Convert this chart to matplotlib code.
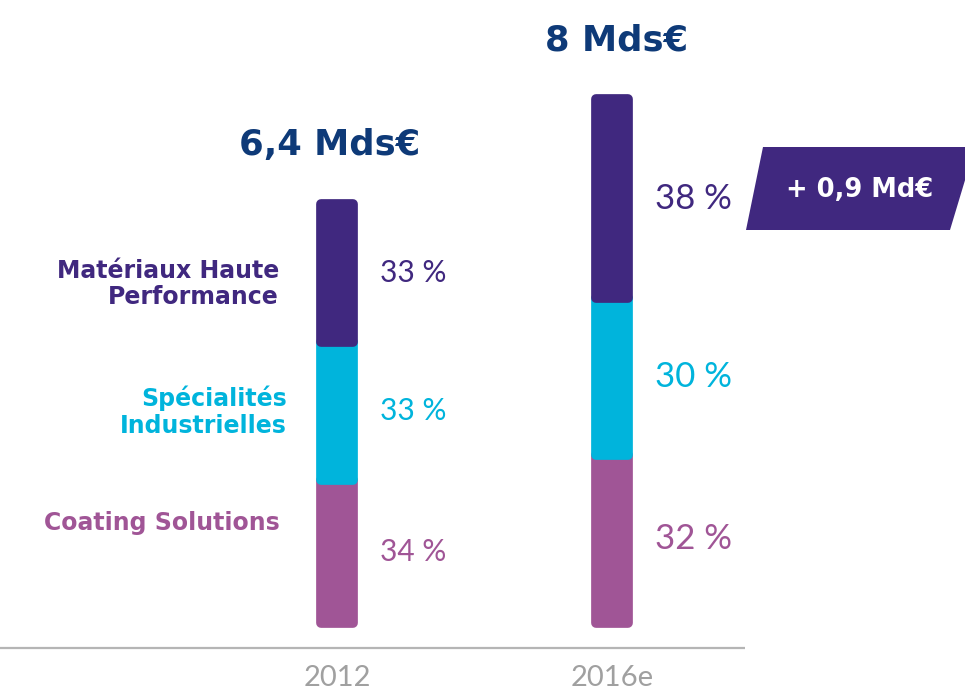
import matplotlib
matplotlib.use("Agg")
import matplotlib.pyplot as plt
from matplotlib.patches import Polygon
import numpy as np

# Data
years = ["2012", "2016e"]
totals = [6.4, 8.0]                     # Md€
total_labels = ["6,4 Mds€", "8 Mds€"]
segments = ["Coating Solutions", "Spécialités\nIndustrielles", "Matériaux Haute\nPerformance"]
shares = {
    "2012": [34, 33, 33],
    "2016e": [32, 30, 38],
}
badge_text = "+ 0,9 Md€"

colors = ["#A05596", "#00B4DC", "#40287F"]
navy = "#0E3A78"
grey = "#A0A0A0"

W, H = 965, 693
fig = plt.figure(figsize=(W / 100, H / 100), dpi=100)
ax = fig.add_axes([0, 0, 1, 1])

# data -> pixel mapping: x=0 at px 337, x=1 at px 612; y=0 at px 623 (from top)
xs = 275.0
ys = 65.5
y0 = 623
ax.set_xlim(-337 / xs, (W - 337) / xs)
ax.set_ylim(-(H - y0) / ys, y0 / ys)
ax.axis("off")

x = np.arange(len(years))
edge_lw = 7
edge_px = edge_lw * 100 / 72
bar_w = (42 - edge_px) / xs

pct_sizes = [21.5, 25]
total_dx = [-7, 5]
for i, yr in enumerate(years):
    vals = np.array(shares[yr]) / 100.0 * totals[i]
    bottom = 0.0
    for j, v in enumerate(vals):
        ax.bar(x[i], v, bottom=bottom, width=bar_w, color=colors[j],
               edgecolor=colors[j], linewidth=edge_lw, joinstyle="round", zorder=2 + j)
        ax.text(x[i] + 43 / xs, bottom + v / 2, f"{shares[yr][j]} %",
                color=colors[j], fontsize=pct_sizes[i], family="Lato", weight="normal",
                ha="left", va="center")
        bottom += v
    # total above each bar
    ax.text(x[i] + total_dx[i] / xs, totals[i] + (54 + edge_px / 2) / ys,
            total_labels[i], color=navy, fontsize=25.5, weight="bold",
            ha="center", va="center", family="DejaVu Sans")
    # year labels
    ax.text(x[i], -(678 - y0) / ys, yr, color=grey, fontsize=21, family="Lato",
            weight="normal", ha="center", va="center")

# category labels to the left of the first bar
label_y_px = [523, 412, 284]
label_right = [280, 287, 279]
for j, name in enumerate(segments):
    ax.text((label_right[j] - 337) / xs, (y0 - label_y_px[j]) / ys, name,
            color=colors[j], fontsize=17, weight="bold", family="DejaVu Sans",
            ha="right", va="center", multialignment="right", linespacing=1.15)

# baseline
ax.plot([-337 / xs, (745 - 337) / xs], [-(648 - y0) / ys] * 2, color="#B5B5B5", lw=1.6,
        solid_capstyle="butt", clip_on=False)

# growth badge (slanted banner at right edge)
def fpt(px, py):
    return (px / W, 1 - py / H)

badge = Polygon([fpt(763, 147), fpt(975, 147), fpt(950, 230), fpt(746, 230)],
                closed=True, transform=fig.transFigure, facecolor=colors[2],
                edgecolor="none", zorder=5)
fig.patches.append(badge)
fig.text(*fpt(860, 190), badge_text, color="white", fontsize=18.5, weight="bold",
         family="DejaVu Sans", ha="center", va="center", zorder=6)

fig.savefig("out.png", dpi=100)
